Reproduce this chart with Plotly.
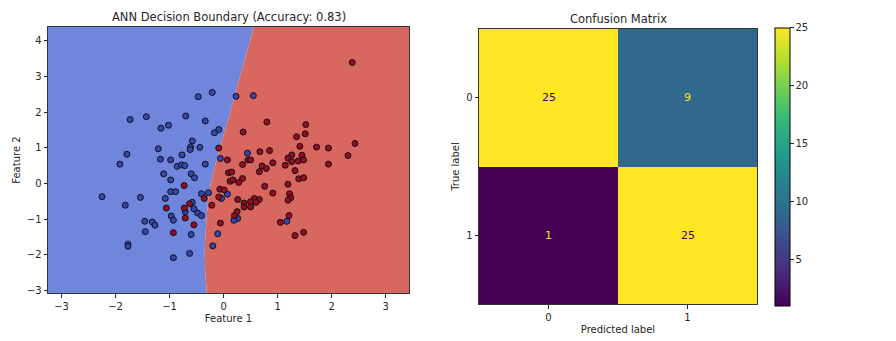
import plotly.graph_objects as go

# ---- scatter data: two features, true class labels ----
class0_f1 = [-0.47, -0.21, 0.23, 0.55, -1.73, -1.43, -0.70, -0.34, -1.16, -1.02,
             -0.09, -0.17, -0.58, -1.21, -0.61, -0.62, -0.44, -1.79, -1.92, -1.17,
             -0.98, -0.77, -0.86, -0.78, -0.72, -0.34, -0.06, 0.44, -1.11, -0.60,
             -0.54, -0.98, -0.98, -0.89, -2.25, -1.54, -1.08, -0.41, -0.28, 0.07,
             -0.04, -1.82, -0.58, -0.55, -0.71, -0.48, -0.41, -0.97, -0.93, -1.46,
             -1.32, -1.27, -1.45, -0.60, -0.11, -1.77, -1.77, -0.63, -0.93, -0.20,
             0.26, 0.19, 1.17]
class0_f2 = [2.43, 2.55, 2.44, 2.46, 1.79, 1.87, 1.89, 1.75, 1.55, 1.63,
             1.51, 1.42, 1.19, 0.97, 1.02, 0.95, 1.01, 0.82, 0.54, 0.68,
             0.66, 0.80, 0.48, 0.52, 0.50, 0.54, 0.70, 0.85, 0.27, 0.27,
             0.16, 0.10, -0.23, -0.23, -0.37, -0.39, -0.42, -0.29, -0.26, -0.30,
             -0.42, -0.61, -0.53, -0.71, -0.79, -0.83, -0.90, -0.91, -1.03, -1.06,
             -1.08, -1.17, -1.35, -1.43, -1.41, -1.70, -1.76, -1.96, -2.08, -1.75,
             -0.98, -1.03, -1.06]

class1_f1 = [2.38, 0.80, 1.52, 0.36, 1.51, 1.35, 1.41, 1.72, 1.94, 2.43,
             -0.09, 0.67, 0.85, 1.26, 1.45, 1.19, 2.30, 0.07, 0.45, 0.50,
             0.35, 0.91, 1.26, 1.38, 1.48, 1.94, 1.14, 0.71, 0.79, 0.66,
             1.32, 0.09, 0.15, 0.35, 0.12, 0.17, 0.28, 1.39, 1.48, 1.19,
             -0.73, 0.76, -0.07, 0.01, 0.91, 1.22, 1.24, 1.19, -0.36, -0.09,
             0.26, 0.57, 0.66, 0.50, 0.60, 0.38, 0.38, 0.50, -0.22, -0.63,
             -1.06, -0.73, -0.71, 0.25, 0.20, 1.21, -0.55, -0.06, 1.05, -0.93,
             1.32, 1.48]
class1_f2 = [3.39, 1.72, 1.65, 1.44, 1.39, 1.31, 1.04, 1.02, 0.99, 1.12,
             0.99, 0.89, 0.92, 0.80, 0.79, 0.71, 0.78, 0.66, 0.66, 0.66,
             0.53, 0.58, 0.61, 0.63, 0.66, 0.54, 0.51, 0.49, 0.42, 0.33,
             0.36, 0.30, 0.32, 0.14, 0.06, 0.10, 0.03, 0.13, 0.16, -0.02,
             -0.06, -0.08, -0.16, -0.18, -0.27, -0.29, -0.40, -0.47, -0.42, -0.38,
             -0.45, -0.42, -0.45, -0.51, -0.53, -0.55, -0.66, -0.66, -0.61, -0.57,
             -0.69, -0.69, -0.97, -0.79, -0.90, -0.90, -1.16, -1.11, -1.09, -1.38,
             -1.46, -1.37]

# ---- decision boundary of the trained network (feature 1 as a function of feature 2) ----
boundary_f2 = [4.39, 3.5, 2.5, 1.5, 1.0, 0.5, 0.0, -0.5, -1.0, -1.5, -2.0, -2.5, -3.08]
boundary_f1 = [0.56, 0.40, 0.21, 0.03, -0.07, -0.16, -0.24, -0.29, -0.32, -0.34, -0.35, -0.34, -0.31]

# ---- confusion matrix ----
class_labels = ["0", "1"]
conf_matrix = [[25, 9],
               [1, 25]]
accuracy = 0.83

all_f1 = class0_f1 + class1_f1
all_f2 = class0_f2 + class1_f2
x_lo, x_hi = min(all_f1) - 1, max(all_f1) + 1
y_lo, y_hi = min(all_f2) - 1, max(all_f2) + 1

BLUE_REGION = "#7086dc"
RED_REGION = "#d8685f"
FONT = "DejaVu Sans"
TXT = "#262626"

fig = go.Figure()

# decision regions as filled polygons
fig.add_trace(go.Scatter(
    x=[x_lo, x_lo] + boundary_f1 + [x_lo],
    y=[y_lo, y_hi] + boundary_f2 + [y_lo],
    fill="toself", fillcolor=BLUE_REGION, mode="lines", line=dict(width=0),
    hoverinfo="skip", showlegend=False, xaxis="x", yaxis="y"))
fig.add_trace(go.Scatter(
    x=[x_hi, x_hi] + boundary_f1 + [x_hi],
    y=[y_lo, y_hi] + boundary_f2 + [y_lo],
    fill="toself", fillcolor=RED_REGION, mode="lines", line=dict(width=0),
    hoverinfo="skip", showlegend=False, xaxis="x", yaxis="y"))

# data points
fig.add_trace(go.Scatter(
    x=class0_f1, y=class0_f2, mode="markers",
    marker=dict(size=6, color="#3546b0", line=dict(color="#111", width=1)),
    showlegend=False, xaxis="x", yaxis="y"))
fig.add_trace(go.Scatter(
    x=class1_f1, y=class1_f2, mode="markers",
    marker=dict(size=6, color="#960c22", line=dict(color="#111", width=1)),
    showlegend=False, xaxis="x", yaxis="y"))

# confusion matrix heatmap
zmin = min(min(r) for r in conf_matrix)
zmax = max(max(r) for r in conf_matrix)
fig.add_trace(go.Heatmap(
    z=conf_matrix, x=[0, 1], y=[0, 1], colorscale="Viridis",
    zmin=zmin, zmax=zmax, xaxis="x2", yaxis="y2", hoverinfo="skip",
    colorbar=dict(
        x=0.865, xanchor="left", y=0.507, yanchor="middle",
        len=278, lenmode="pixels", thickness=15, thicknessmode="pixels",
        outlinewidth=1, outlinecolor="black",
        tickvals=[5, 10, 15, 20, 25], ticks="outside", ticklen=3.5,
        tickcolor=TXT, tickfont=dict(family=FONT, size=10, color=TXT),
        xpad=0, ypad=0)))

annotations = []
mid = (zmin + zmax) / 2
for i, row in enumerate(conf_matrix):
    for j, v in enumerate(row):
        annotations.append(dict(
            x=j, y=i, xref="x2", yref="y2", text=str(v), showarrow=False,
            font=dict(family=FONT, size=11,
                      color="#440154" if v > mid else "#fde725")))

annotations += [
    dict(text=f"ANN Decision Boundary (Accuracy: {accuracy:.2f})",
         x=228.5 / 896, y=1 - 17 / 341, xref="paper", yref="paper",
         xanchor="center", yanchor="middle",
         showarrow=False, font=dict(family=FONT, size=11.5, color=TXT)),
    dict(text="Confusion Matrix",
         x=618 / 896, y=1 - 19 / 341, xref="paper", yref="paper",
         xanchor="center", yanchor="middle",
         showarrow=False, font=dict(family=FONT, size=11.5, color=TXT)),
]

axis_common = dict(
    showgrid=False, zeroline=False, showline=True, mirror=True,
    linecolor="#333", linewidth=1, ticks="outside", ticklen=3.5,
    tickcolor=TXT, tickfont=dict(family=FONT, size=10, color=TXT))

fig.update_layout(
    width=896, height=341,
    margin=dict(l=0, r=0, t=0, b=0),
    paper_bgcolor="white", plot_bgcolor="white",
    annotations=annotations,
    xaxis=dict(domain=[48 / 896, 409 / 896], range=[x_lo, x_hi],
               tickvals=[-3, -2, -1, 0, 1, 2, 3],
               title=dict(text="Feature 1", standoff=4,
                          font=dict(family=FONT, size=10, color=TXT)),
               **axis_common),
    yaxis=dict(domain=[45 / 341, 314 / 341], range=[y_lo, y_hi],
               tickvals=[-3, -2, -1, 0, 1, 2, 3, 4],
               title=dict(text="Feature 2", standoff=4,
                          font=dict(family=FONT, size=10, color=TXT)),
               **axis_common),
    xaxis2=dict(domain=[479 / 896, 757 / 896], range=[-0.5, 1.5],
                tickvals=[0, 1], ticktext=class_labels, anchor="y2",
                title=dict(text="Predicted label", standoff=4,
                           font=dict(family=FONT, size=10, color=TXT)),
                **axis_common),
    yaxis2=dict(domain=[34 / 341, 312 / 341], range=[1.5, -0.5],
                tickvals=[0, 1], ticktext=class_labels, anchor="x2",
                title=dict(text="True label", standoff=4,
                           font=dict(family=FONT, size=10, color=TXT)),
                **axis_common),
)

fig.write_html("out.html")
